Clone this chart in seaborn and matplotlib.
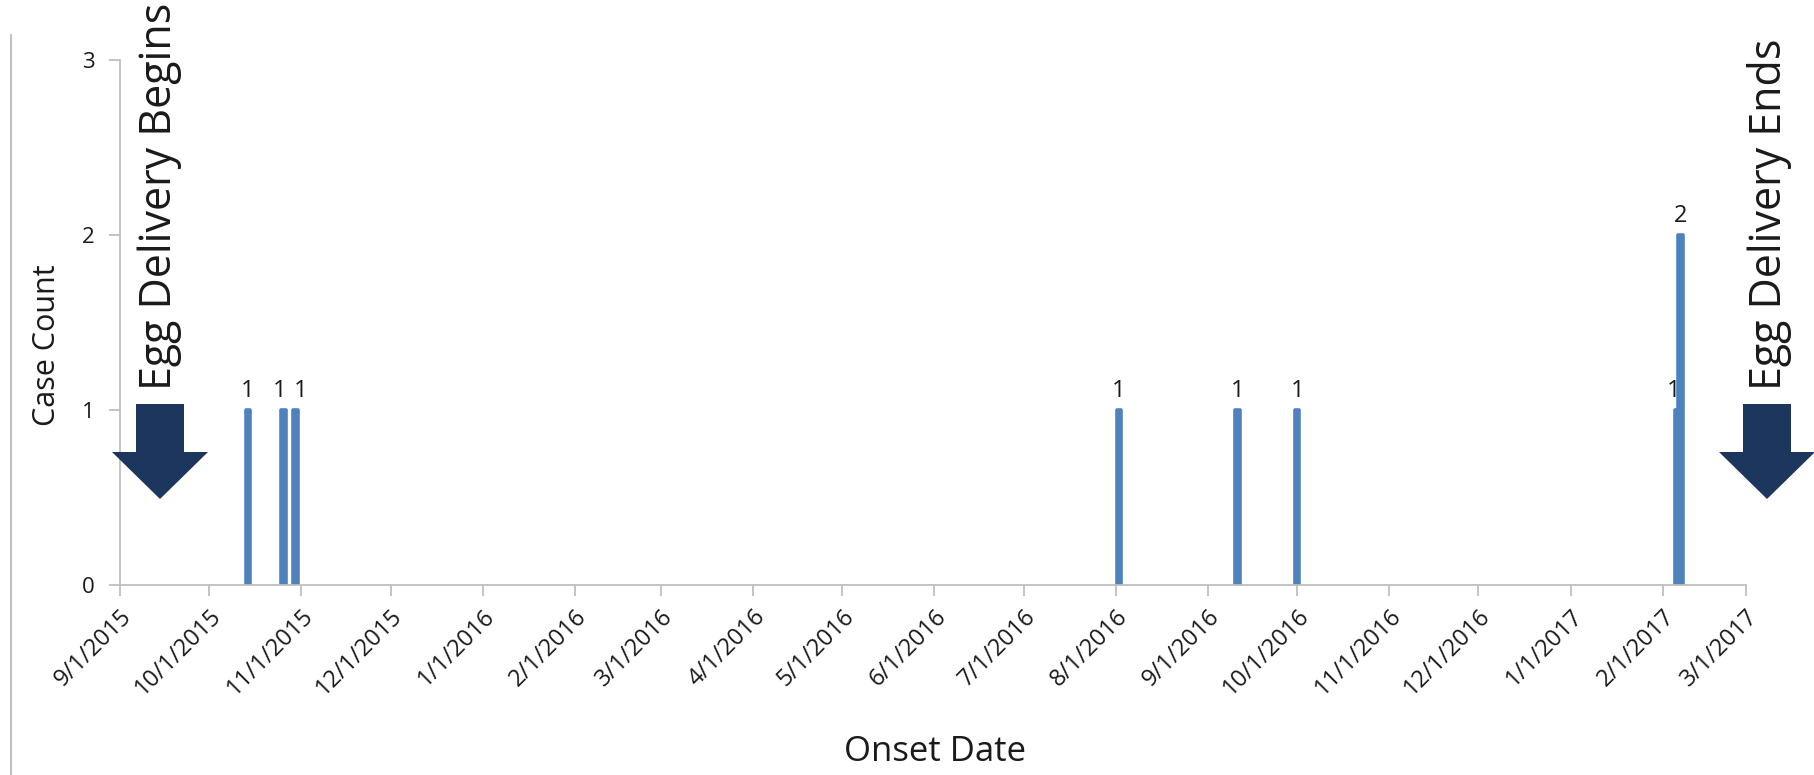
import numpy as np
import pandas as pd
import matplotlib
matplotlib.use("Agg")
import matplotlib.pyplot as plt
import matplotlib.dates as mdates
from matplotlib.patches import Polygon
from matplotlib.lines import Line2D
import seaborn as sns

# onset dates (one bar per day) and case counts
onset_dates = ["10/14/2015", "10/26/2015", "10/30/2015", "8/2/2016",
               "9/11/2016", "10/1/2016", "2/6/2017", "2/7/2017"]
case_counts = [1, 1, 1, 1, 1, 1, 1, 2]
# small sideways nudge of the count labels (px) where bars sit close together
label_nudge = [0, -4, 5, 0, 0, 0, -4, 0]

tick_labels = ["9/1/2015", "10/1/2015", "11/1/2015", "12/1/2015", "1/1/2016",
               "2/1/2016", "3/1/2016", "4/1/2016", "5/1/2016", "6/1/2016",
               "7/1/2016", "8/1/2016", "9/1/2016", "10/1/2016", "11/1/2016",
               "12/1/2016", "1/1/2017", "2/1/2017", "3/1/2017"]
y_ticks = [0, 1, 2, 3]

bar_color = "#4F81BD"
arrow_color = "#1C365E"
grey = "#BFBFBF"
txt = "#1a1a1a"

W, H = 1814, 775

sns.set_style("ticks")
plt.rcParams["font.family"] = ["Open Sans", "DejaVu Sans"]

df = pd.DataFrame({"date": pd.to_datetime(onset_dates, format="%m/%d/%Y"),
                   "count": case_counts})
df["x"] = mdates.date2num(df["date"])
ticks = mdates.date2num(pd.to_datetime(tick_labels, format="%m/%d/%Y"))

fig = plt.figure(figsize=(W / 100, H / 100), dpi=100)
ax = fig.add_axes([120 / W, 1 - 585 / H, (1746 - 120) / W, (585 - 60) / H])

sns.barplot(data=df, x="x", y="count", native_scale=True, orient="x",
            width=1.5, color=bar_color, saturation=1, errorbar=None,
            edgecolor=bar_color, linewidth=2.6, ax=ax)
for p in ax.patches:
    p.set_joinstyle("round")

for xv, c, dx in zip(df["x"], df["count"], label_nudge):
    ax.annotate(str(c), (xv, c), xytext=(dx * 0.72, 5), textcoords="offset points",
                ha="center", va="bottom", fontsize=17, color=txt)

ax.set_xlim(ticks[0], ticks[-1])
ax.set_ylim(0, 3)
ax.set_xticks(ticks)
ax.set_xticklabels(tick_labels, rotation=45, ha="right", rotation_mode="anchor",
                   fontsize=17, color=txt)
ax.set_yticks(y_ticks)
ax.set_yticklabels([str(v) for v in y_ticks], fontsize=16, color=txt)
ax.tick_params(axis="x", length=8, color=grey, width=1.3, pad=6)
ax.tick_params(axis="y", length=8, color=grey, width=1.3, pad=10)
ax.set_xlabel("Onset Date", fontsize=25, color=txt)
ax.set_ylabel("Case Count", fontsize=22, color=txt)
ax.xaxis.set_label_coords((935 - 120) / (1746 - 120), -(735 - 585) / (585 - 60))
ax.yaxis.set_label_coords(-(120 - 62) / (1746 - 120), (585 - 345) / (585 - 60))
sns.despine(ax=ax)
for s in ["left", "bottom"]:
    ax.spines[s].set_color(grey)
    ax.spines[s].set_linewidth(1.3)


def fig_pts(pts):
    return [(x / W, 1 - y / H) for x, y in pts]


# delivery arrows
for cx in (160, 1767):
    shape = [(cx - 24, 404), (cx + 24, 404), (cx + 24, 452), (cx + 48, 452),
             (cx, 499), (cx - 48, 452), (cx - 24, 452)]
    fig.add_artist(Polygon(fig_pts(shape), closed=True, transform=fig.transFigure,
                           facecolor=arrow_color, edgecolor="none"))

fig.text(160 / W, 1 - 390 / H, "Egg Delivery Begins", rotation=90,
         ha="center", va="bottom", fontsize=31, color=txt)
fig.text(1770 / W, 1 - 390 / H, "Egg Delivery Ends", rotation=90,
         ha="center", va="bottom", fontsize=31, color=txt)

# frame line on the left edge
fig.add_artist(Line2D([11 / W, 11 / W], [0, 1 - 35 / H], transform=fig.transFigure,
                      color=grey, linewidth=1.5))

fig.savefig("out.png", dpi=100)
